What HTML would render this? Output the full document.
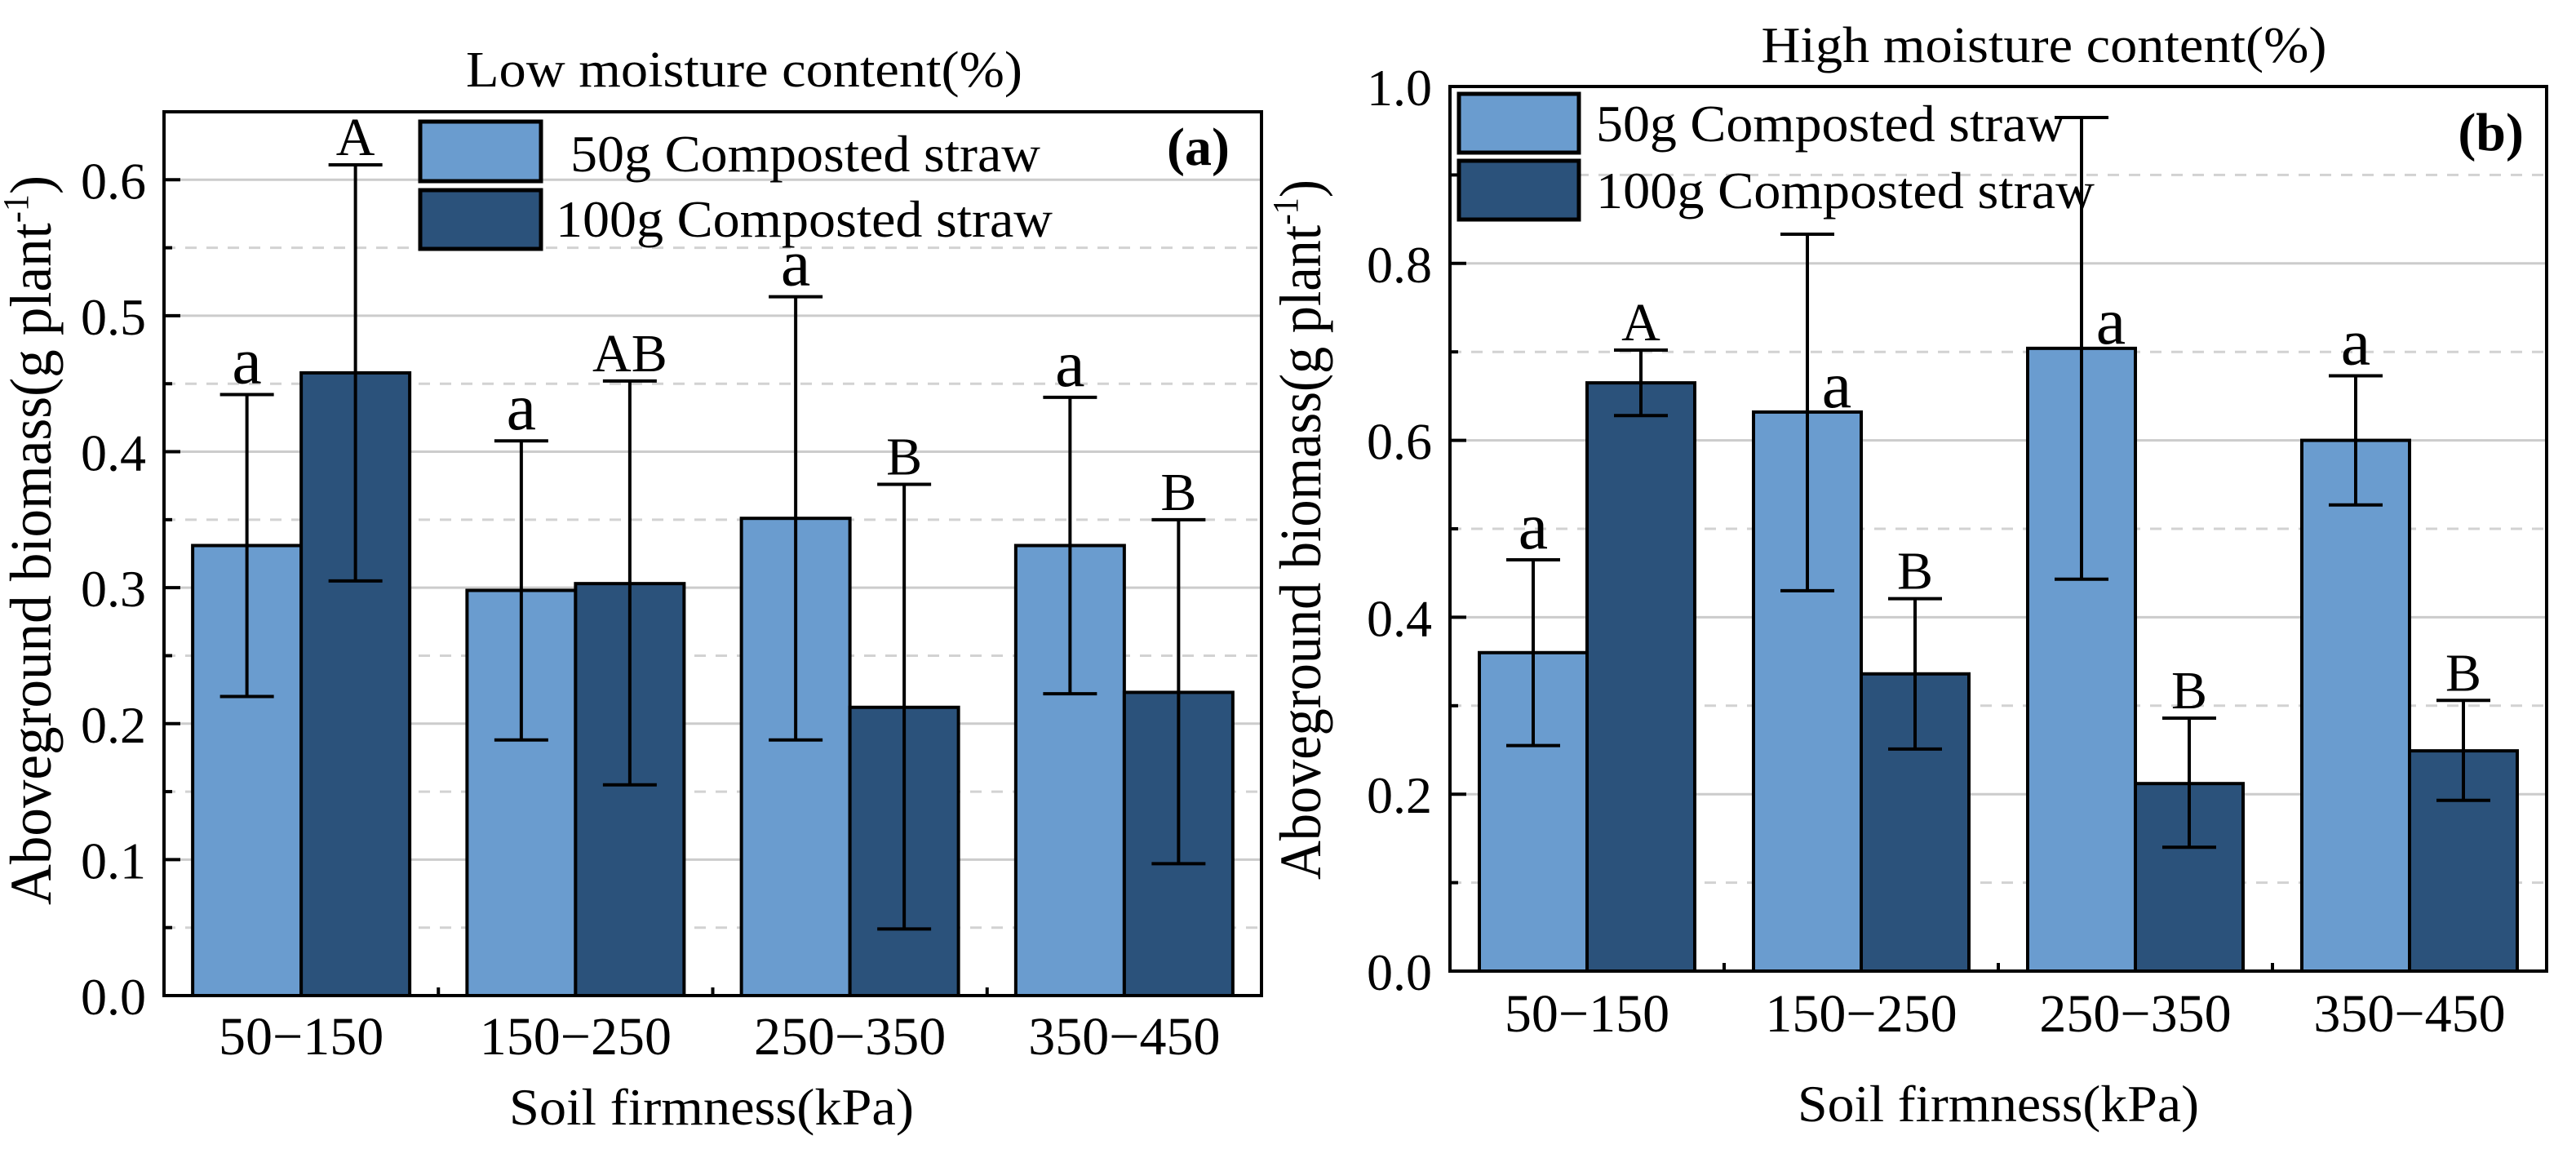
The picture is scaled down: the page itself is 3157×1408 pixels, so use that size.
<!DOCTYPE html>
<html><head><meta charset="utf-8"><style>
html,body{margin:0;padding:0;background:#fff;}
svg{display:block;font-family:"Liberation Serif","Times New Roman",serif;}
svg text{font-family:"Liberation Serif","Times New Roman",serif !important;}
</style></head><body>
<svg id="chart" width="3157" height="1408" viewBox="0 0 3157 1408" xmlns="http://www.w3.org/2000/svg"></svg>
<script>
const categories = ["50\u2212150","150\u2212250","250\u2212350","350\u2212450"];
const seriesNames = ["50g Composted straw","100g Composted straw"];
// Panel a (low moisture)
const aLight = [0.331,0.298,0.351,0.331];
const aLightLo = [0.220,0.188,0.188,0.222];
const aLightHi = [0.442,0.408,0.514,0.440];
const aDark = [0.458,0.303,0.212,0.223];
const aDarkLo = [0.305,0.155,0.049,0.097];
const aDarkHi = [0.611,0.452,0.376,0.350];
const aLightLetters = ["a","a","a","a"];
const aDarkLetters = ["A","AB","B","B"];
const aTicks = ["0.0","0.1","0.2","0.3","0.4","0.5","0.6"];
// Panel b (high moisture)
const bLight = [0.360,0.632,0.704,0.600];
const bLightLo = [0.255,0.430,0.443,0.527];
const bLightHi = [0.465,0.833,0.965,0.673];
const bDark = [0.665,0.336,0.212,0.249];
const bDarkLo = [0.628,0.251,0.140,0.193];
const bDarkHi = [0.702,0.421,0.286,0.306];
const bLightLetters = ["a","a","a","a"];
const bDarkLetters = ["A","B","B","B"];
const bLightLetterOnBar = [false,true,true,false];
const bTicks = ["0.0","0.2","0.4","0.6","0.8","1.0"];

const NS="http://www.w3.org/2000/svg";
const svg=document.getElementById('chart');
function mk(tag,attrs,parent,text){const e=document.createElementNS(NS,tag);for(const k in attrs)e.setAttribute(k,attrs[k]);if(text!==undefined)e.textContent=text;(parent||svg).appendChild(e);return e;}
function txt(parent,x,y,size,anchor,str,len,weight){
  const a={x:x,y:y,'font-size':size,'text-anchor':anchor,fill:'#000'};
  if(len){a.textLength=len;a.lengthAdjust='spacingAndGlyphs';}
  if(weight)a['font-weight']=weight;
  const t=mk('text',a,parent,str);
  t.style.fontFamily='"Liberation Serif", "Times New Roman", serif';
  return t;
}

function panel(cfg){
  const g=mk('g',{});
  
  
  const L=cfg.left,R=cfg.right,T=cfg.top,B=cfg.bottom;
  const y=v=>B-v/cfg.ymax*(B-T);
  const grpW=(R-L)/categories.length;
  const xc=i=>L+grpW*(i+0.5);
  const bw=cfg.bw;
  const nMinor=Math.round(cfg.ymax/cfg.minor);
  for(let k=1;k<nMinor;k++){
    const v=k*cfg.minor; const major=(k%2===0);
    const ln=mk('line',{x1:L,x2:R,y1:y(v),y2:y(v),stroke:major?'#cccccc':'#d2d2d2','stroke-width':3,'stroke-dasharray':major?'':'14,12'},g);
    
    
  }
  const series=[[cfg.light,cfg.lightLo,cfg.lightHi,cfg.lightLet,'#6a9ccf',cfg.onBar||[]],[cfg.dark,cfg.darkLo,cfg.darkHi,cfg.darkLet,'#2b527b',[]]];
  series.forEach((s,si)=>{
    s[0].forEach((v,i)=>{
      const x0=xc(i)+(si===0?-bw:0);
      const r=mk('rect',{x:x0,y:y(v),width:bw,height:B-y(v),fill:s[4],stroke:'#000','stroke-width':4},g);
      
      
    });
  });
  series.forEach((s,si)=>{
    s[0].forEach((v,i)=>{
      const cx=xc(i)+(si===0?-bw/2:bw/2);
      const eg=mk('g',{stroke:'#000','stroke-width':4},g);
      
      
      mk('line',{x1:cx,x2:cx,y1:y(s[1][i]),y2:y(s[2][i])},eg);
      mk('line',{x1:cx-33,x2:cx+33,y1:y(s[1][i]),y2:y(s[1][i])},eg);
      mk('line',{x1:cx-33,x2:cx+33,y1:y(s[2][i]),y2:y(s[2][i])},eg);
      const lower=(s[3][i]===s[3][i].toLowerCase());
      let lx=cx, ly=y(s[2][i])-(lower?14:12);
      if(s[5][i]){lx=cx+36; ly=y(v)-6;}
      const t=txt(g,lx,ly,lower?82:66,'middle',s[3][i]);
      
      
    });
  });
  const fr=mk('rect',{x:L,y:T,width:R-L,height:B-T,fill:'none',stroke:'#000','stroke-width':4},g);
  
  
  for(let k=0;k<=nMinor;k++){
    const v=k*cfg.minor; const major=(k%2===0);
    if(y(v)<T-1)continue;
    mk('line',{x1:L,x2:L+(major?20:10),y1:y(v),y2:y(v),stroke:'#000','stroke-width':4},g);
  }
  cfg.ticks.forEach(lab=>{
    const t=txt(g,L-22,y(parseFloat(lab))+23,64,'end',lab);
    
    
  });
  for(let i=1;i<categories.length;i++){
    mk('line',{x1:L+grpW*i,x2:L+grpW*i,y1:B,y2:B-10,stroke:'#000','stroke-width':4},g);
  }
  categories.forEach((c,i)=>{
    const t=txt(g,xc(i),cfg.xlabY,66,'middle',c);
    
    
  });
  const xt=txt(g,cfg.xtitleX,cfg.xtitleY,64,'middle','Soil firmness(kPa)',cfg.xtitleLen);
  
  
  const yg=mk('g',{transform:`translate(${cfg.ytitleX},${cfg.ytitleY}) rotate(-90)`},g);
  const yt=txt(yg,0,0,72,'middle','Aboveground biomass(g plant',cfg.ytitleLen);
  
  
  mk('tspan',{dy:-28,'font-size':44},yt,'-1');
  mk('tspan',{dy:28},yt,')');
  const tt=txt(g,cfg.titleX,cfg.titleY,62,'middle',cfg.title,cfg.titleLen);
  
  
  const pl=txt(g,cfg.plX,cfg.plY,66,'end',cfg.pl,null,'bold');
  
  
  const cols=['#6a9ccf','#2b527b'];
  cfg.leg.forEach((l,i)=>{
    const lg=mk('g',{},g);
    
    
    mk('rect',{x:l.x,y:l.y,width:l.w,height:l.h,fill:cols[i],stroke:'#000','stroke-width':5},lg);
    txt(lg,l.tx,l.ty,64,'start',seriesNames[i],l.len);
  });
}

panel({id:'low-moisture',left:201,right:1546,top:137,bottom:1220,ymax:0.65,minor:0.05,bw:133,
  light:aLight,lightLo:aLightLo,lightHi:aLightHi,dark:aDark,darkLo:aDarkLo,darkHi:aDarkHi,
  lightLet:aLightLetters,darkLet:aDarkLetters,ticks:aTicks,xlabY:1292,xtitleX:872,xtitleY:1378,xtitleLen:496,
  ytitleX:62,ytitleY:662,ytitleLen:894,title:'Low moisture content(%)',titleX:912,titleY:106,titleLen:682,pl:'(a)',plX:1507,plY:202,
  leg:[{x:515,y:149,w:148,h:73,tx:699,ty:210,len:576},{x:515,y:233,w:148,h:72,tx:681,ty:290,len:609}]});
panel({id:'high-moisture',left:1777,right:3121,top:106,bottom:1190,ymax:1.0,minor:0.1,bw:132,
  light:bLight,lightLo:bLightLo,lightHi:bLightHi,dark:bDark,darkLo:bDarkLo,darkHi:bDarkHi,onBar:bLightLetterOnBar,
  lightLet:bLightLetters,darkLet:bDarkLetters,ticks:bTicks,xlabY:1264,xtitleX:2449,xtitleY:1374,xtitleLen:492,
  ytitleX:1618,ytitleY:649,ytitleLen:858,title:'High moisture content(%)',titleX:2505,titleY:76,titleLen:693,pl:'(b)',plX:3093,plY:184,
  leg:[{x:1788,y:115,w:147,h:72,tx:1956,ty:173,len:575},{x:1788,y:197,w:147,h:72,tx:1956,ty:255,len:611}]});
</script>
</body></html>
